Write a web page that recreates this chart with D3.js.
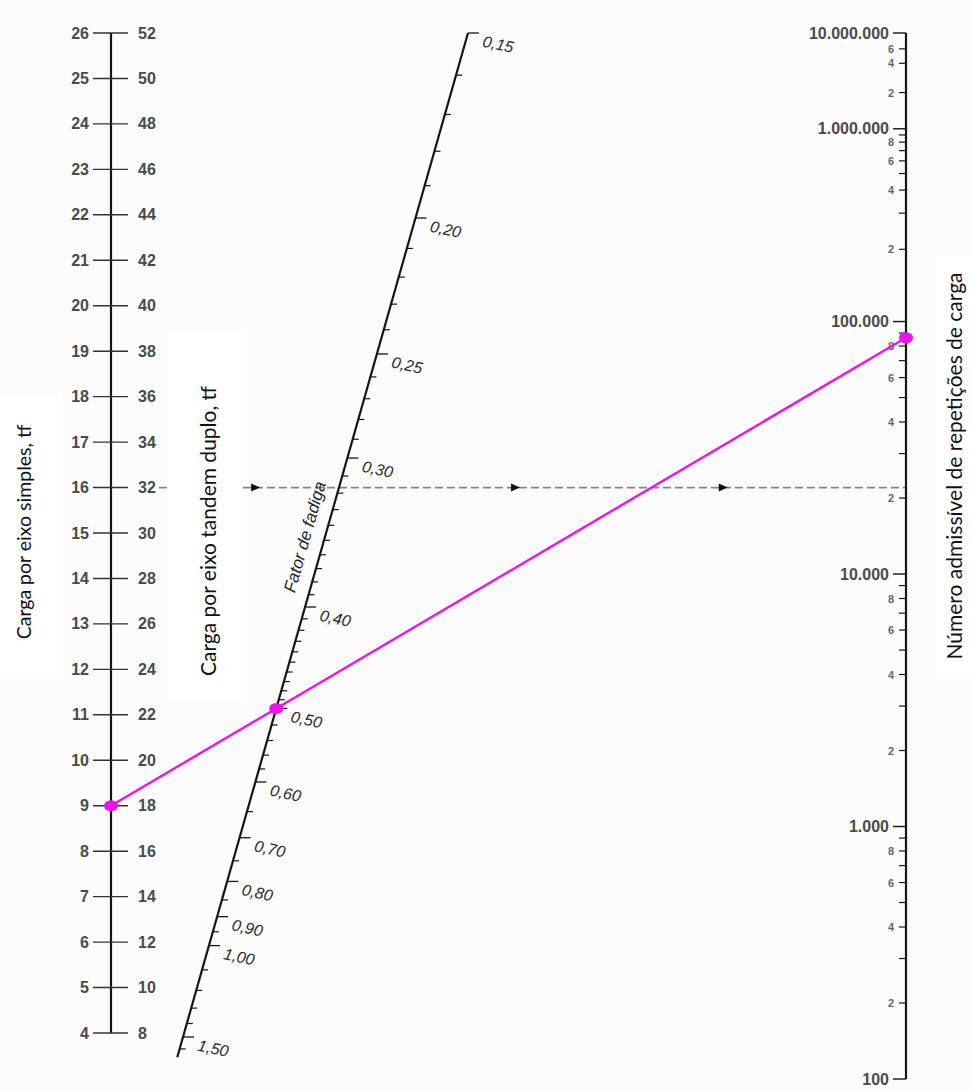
<!DOCTYPE html>
<html>
<head>
<meta charset="utf-8">
<script src="https://cdn.jsdelivr.net/npm/d3@7"></script>
<style>
  html, body { margin: 0; background: #fcfcfc; }
  svg { display: block; }
</style>
</head>
<body>
<div id="chart"></div>
<script>
// ---- data ------------------------------------------------------------
const singleAxleLoads = [4, 5, 6, 7, 8, 9, 10, 11, 12, 13, 14, 15, 16, 17, 18, 19, 20, 21, 22, 23, 24, 25, 26];
const tandemAxleLoads = [8, 10, 12, 14, 16, 18, 20, 22, 24, 26, 28, 30, 32, 34, 36, 38, 40, 42, 44, 46, 48, 50, 52];

const fatigueMajor = [0.15, 0.20, 0.25, 0.30, 0.40, 0.50, 0.60, 0.70, 0.80, 0.90, 1.00, 1.50];
const fatigueMinor = [
  0.16, 0.17, 0.18, 0.19, 0.21, 0.22, 0.23, 0.24, 0.26, 0.27, 0.28, 0.29,
  0.31, 0.32, 0.33, 0.34, 0.35, 0.36, 0.37, 0.38, 0.39,
  0.41, 0.42, 0.43, 0.44, 0.45, 0.46, 0.47, 0.48, 0.49,
  0.52, 0.54, 0.56, 0.58, 0.65, 0.75, 0.85, 0.95, 1.1, 1.2, 1.3, 1.4, 1.6
];

const repMajor = [100, 1000, 10000, 100000, 1000000, 10000000];
const repMajorLabels = ['100', '1.000', '10.000', '100.000', '1.000.000', '10.000.000'];
const repMinorSteps = [2, 3, 4, 5, 6, 7, 8, 9];
const repMinorLabelled = [2, 4, 6, 8];
const repTopDecadeSteps = [2, 4, 6];

const exampleSingleLoad = 9;     // tf, magenta reading
const exampleFatigue = 0.50;
const guideSingleLoad = 16;      // dashed guide line

// ---- layout ----------------------------------------------------------
const W = 971, H = 1091;
const INK = '#151515';
const LABEL = '#4a4a4a';
const MAGENTA = '#ec12ec';
const FONT_NUM = "'Liberation Sans', Arial, sans-serif";
const FONT_TITLE = "Lato, 'Open Sans', sans-serif";

const LOAD_X = 111;
const REP_X = 906;

const loadY = d3.scaleLinear().domain([4, 26]).range([1033, 33]);
const tandemY = d3.scaleLinear().domain([8, 52]).range([1033, 33]);

// allowable repetitions axis is laid out linearly in stress ratio (PCA fatigue curve)
const stressRatio = n => n <= 124500
  ? (11.737 - Math.log10(n)) / 12.077
  : 0.4325 + 4.2577 * Math.pow(n, -1 / 3.268);
const srY = d3.scaleLinear().domain([stressRatio(1e7), stressRatio(100)]).range([33, 1079]);
const repY = n => srY(stressRatio(n));

// fatigue factor axis: slanted, hyperbolic spacing
const FC = 0.127;
const fatInv = f => 1 / (f + FC);
const fatX = d3.scaleLinear().domain([fatInv(0.15), fatInv(1.5)]).range([468, 183]);
const fatY = d3.scaleLinear().domain([fatInv(0.15), fatInv(1.5)]).range([33, 1037]);
const fatPos = f => [fatX(fatInv(f)), fatY(fatInv(f))];

const svg = d3.select('#chart').append('svg')
  .attr('width', W).attr('height', H)
  .attr('viewBox', `0 0 ${W} ${H}`);

svg.append('rect').attr('width', W).attr('height', H).attr('fill', '#fcfcfc');

// ---- load axis (left) -------------------------------------------------
const gL = svg.append('g');
gL.append('line')
  .attr('x1', LOAD_X).attr('x2', LOAD_X)
  .attr('y1', loadY(26)).attr('y2', loadY(4))
  .attr('stroke', INK).attr('stroke-width', 2.2);

gL.selectAll('.tick').data(singleAxleLoads).join('line')
  .attr('x1', LOAD_X - 18).attr('x2', LOAD_X + 17)
  .attr('y1', d => loadY(d)).attr('y2', d => loadY(d))
  .attr('stroke', '#333').attr('stroke-width', 1.4);

gL.selectAll('.sl').data(singleAxleLoads).join('text')
  .attr('x', LOAD_X - 22).attr('y', d => loadY(d))
  .attr('text-anchor', 'end').attr('dominant-baseline', 'central')
  .style('font-family', FONT_NUM).style('font-size', '16px').style('font-weight', 'bold')
  .style('fill', LABEL)
  .text(d => d);

gL.selectAll('.tl').data(tandemAxleLoads).join('text')
  .attr('x', LOAD_X + 27).attr('y', d => tandemY(d))
  .attr('text-anchor', 'start').attr('dominant-baseline', 'central')
  .style('font-family', FONT_NUM).style('font-size', '16px').style('font-weight', 'bold')
  .style('fill', LABEL)
  .text(d => d);

// ---- dashed guide line ----------------------------------------------
const guideY = loadY(guideSingleLoad);
const guideX0 = LOAD_X + 48;
svg.append('line')
  .attr('x1', guideX0).attr('x2', REP_X)
  .attr('y1', guideY).attr('y2', guideY)
  .attr('stroke', '#858585').attr('stroke-width', 1.7)
  .attr('stroke-dasharray', '8,4');

const arrowAt = [0.13, 0.478, 0.756];
svg.selectAll('.arrow').data(arrowAt).join('path')
  .attr('d', 'M-5,-4L4,0L-5,4Z')
  .attr('transform', d => `translate(${guideX0 + d * (REP_X - guideX0)},${guideY})`)
  .attr('fill', '#111');

// ---- white label panels -----------------------------------------------
svg.append('rect').attr('x', 0).attr('y', 395).attr('width', 62).attr('height', 280).attr('fill', '#fff');
svg.append('rect').attr('x', 168).attr('y', 330).attr('width', 75).attr('height', 372).attr('fill', '#fff');
svg.append('rect').attr('x', 936).attr('y', 255).attr('width', 35).attr('height', 420).attr('fill', '#fff');

// ---- fatigue factor axis (slanted) -----------------------------------
const gF = svg.append('g');
const pTop = fatPos(0.15), pBot = fatPos(1.5);
const dir = [pBot[0] - pTop[0], pBot[1] - pTop[1]];
const dLen = Math.hypot(dir[0], dir[1]);
const unit = [dir[0] / dLen, dir[1] / dLen];
const axisAngle = Math.atan2(-unit[1], -unit[0]) * 180 / Math.PI; // pointing up the axis

gF.append('line')
  .attr('x1', pTop[0]).attr('y1', pTop[1])
  .attr('x2', pBot[0] + unit[0] * 21).attr('y2', pBot[1] + unit[1] * 21)
  .attr('stroke', INK).attr('stroke-width', 2.2);

gF.selectAll('.fmin').data(fatigueMinor).join('line')
  .attr('x1', d => fatPos(d)[0]).attr('x2', d => fatPos(d)[0] + 6)
  .attr('y1', d => fatPos(d)[1]).attr('y2', d => fatPos(d)[1])
  .attr('stroke', INK).attr('stroke-width', 1.2);

gF.selectAll('.fmaj').data(fatigueMajor).join('line')
  .attr('x1', d => fatPos(d)[0]).attr('x2', d => fatPos(d)[0] + 11)
  .attr('y1', d => fatPos(d)[1]).attr('y2', d => fatPos(d)[1])
  .attr('stroke', INK).attr('stroke-width', 1.3);

const fmt = d => d3.format('.2f')(d).replace('.', ',');
gF.selectAll('.flab').data(fatigueMajor).join('text')
  .attr('transform', d => {
    const [x, y] = fatPos(d);
    return `translate(${x + 15},${y + 8}) rotate(12)`;
  })
  .attr('dominant-baseline', 'central')
  .style('font-family', FONT_NUM).style('font-size', '16px').style('font-style', 'italic')
  .style('fill', '#2a2a2a')
  .text(fmt);

{
  const c = fatPos(0.345);
  gF.append('text')
    .attr('transform', `translate(${c[0] - 21},${c[1] + 4}) rotate(${axisAngle})`)
    .attr('text-anchor', 'middle').attr('dominant-baseline', 'central')
    .style('font-family', FONT_NUM).style('font-size', '17px').style('font-style', 'italic')
    .style('fill', '#222')
    .text('Fator de fadiga');
}

// ---- repetitions axis (right) ----------------------------------------
const gR = svg.append('g');
gR.append('line')
  .attr('x1', REP_X).attr('x2', REP_X)
  .attr('y1', repY(1e7)).attr('y2', repY(100))
  .attr('stroke', INK).attr('stroke-width', 2.2);

gR.selectAll('.rmaj').data(repMajor).join('line')
  .attr('x1', REP_X - 13).attr('x2', REP_X)
  .attr('y1', d => repY(d)).attr('y2', d => repY(d))
  .attr('stroke', INK).attr('stroke-width', 1.4);

gR.selectAll('.rlab').data(repMajor).join('text')
  .attr('x', REP_X - 17).attr('y', d => repY(d))
  .attr('text-anchor', 'end').attr('dominant-baseline', 'central')
  .style('font-family', FONT_NUM).style('font-size', '16px').style('font-weight', 'bold')
  .style('fill', LABEL)
  .text((d, i) => repMajorLabels[i]);

const repMinor = [];
repMajor.forEach(base => {
  const steps = base === 1e6 ? repTopDecadeSteps : repMinorSteps;
  if (base >= 1e7) return;
  steps.forEach(k => repMinor.push({ n: base * k, k,
    labelled: base === 1e6 ? true : repMinorLabelled.includes(k) }));
});

gR.selectAll('.rmin').data(repMinor).join('line')
  .attr('x1', REP_X - 7).attr('x2', REP_X)
  .attr('y1', d => repY(d.n)).attr('y2', d => repY(d.n))
  .attr('stroke', INK).attr('stroke-width', 1.2);

gR.selectAll('.rminlab').data(repMinor.filter(d => d.labelled)).join('text')
  .attr('x', REP_X - 12).attr('y', d => repY(d.n))
  .attr('text-anchor', 'end').attr('dominant-baseline', 'central')
  .style('font-family', FONT_NUM).style('font-size', '11px').style('font-weight', 'bold')
  .style('fill', '#666')
  .text(d => d.k);

// ---- example reading (magenta) ----------------------------------------
const pA = [LOAD_X, loadY(exampleSingleLoad)];
const pM = fatPos(exampleFatigue);
const slope = (pM[1] - pA[1]) / (pM[0] - pA[0]);
const pC = [REP_X, pA[1] + slope * (REP_X - pA[0])];

svg.append('line')
  .attr('x1', pA[0]).attr('y1', pA[1]).attr('x2', pC[0]).attr('y2', pC[1])
  .attr('stroke', MAGENTA).attr('stroke-width', 2.4);

svg.selectAll('.mdot').data([pA, pM, pC]).join('ellipse')
  .attr('cx', d => d[0]).attr('cy', d => d[1])
  .attr('rx', 7).attr('ry', 5.5)
  .attr('fill', MAGENTA);

// ---- axis titles -------------------------------------------------------
const title = (x, y, txt, size) => svg.append('text')
  .attr('transform', `translate(${x},${y}) rotate(-90)`)
  .attr('text-anchor', 'middle').attr('dominant-baseline', 'central')
  .style('font-family', FONT_TITLE).style('font-size', `${size}px`)
  .style('fill', '#111')
  .text(txt);

title(23, 532, 'Carga por eixo simples, tf', 19.5);
title(207, 531, 'Carga por eixo tandem duplo, tf', 21);
title(953, 466, 'Número admissível de repetições de carga', 21);
</script>
</body>
</html>
